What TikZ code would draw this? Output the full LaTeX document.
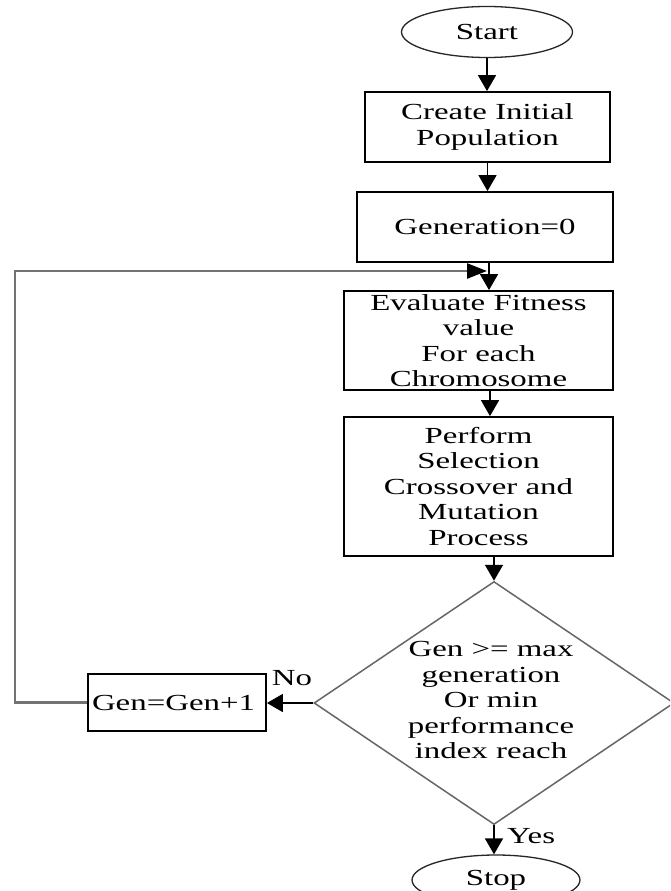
\documentclass[tikz,border=0pt]{standalone}
\usepackage{fontspec}
\setmainfont[FakeStretch=1.43]{Liberation Serif}
\usetikzlibrary{shapes.geometric,arrows.meta}
\begin{document}
\begin{tikzpicture}[x=1pt,y=-1pt,
  every node/.style={font=\fontsize{23}{25.5}\selectfont, inner sep=0pt},
  proc/.style={draw=black, line width=1.8pt, rectangle, align=center},
  term/.style={draw=black!85, line width=1.3pt, ellipse},
  decis/.style={draw=black!60, line width=1.5pt, diamond},
  arr/.style={-{Triangle[width=18pt,length=16pt]}, line width=1.6pt, black},
  loopline/.style={draw=black!55, line width=2.4pt, -{Triangle[width=15pt,length=20pt,color=black]}}
]
\useasboundingbox (0,0) rectangle (670,891);
\clip (0,0) rectangle (670,891);
\fill[white] (0,0) rectangle (670,891);

\node[term, minimum width=171pt, minimum height=51pt] (start) at (487,32) {Start};
\node[proc, minimum width=245pt, minimum height=70pt] (init) at (487.5,127) {Create Initial\\Population};
\node[proc, minimum width=256pt, minimum height=70pt] (gen0) at (485,227) {Generation=0};
\node[proc, minimum width=269pt, minimum height=99pt] (eval) at (478.5,340.5) {Evaluate Fitness\\value\\For each\\Chromosome};
\node[proc, minimum width=269pt, minimum height=139pt] (perf) at (478.5,486.5) {Perform\\Selection\\Crossover and\\Mutation\\Process};
\node[decis, minimum width=360pt, minimum height=243pt] (dec) at (494,703) {};
\node[align=center] (dectext) at (491,700) {Gen >= max\\generation\\Or min\\performance\\index reach};
\node[proc, minimum width=178pt, minimum height=57pt, text width=170pt, align=left, inner xsep=4pt] (inc) at (177,702.5) {Gen=Gen+1};
\node[term, minimum width=168pt, minimum height=50pt] (stop) at (496,880) {Stop};
\node (no) at (292,678) {No};
\node[anchor=west] (yes) at (507,836) {Yes};

\coordinate (g0s) at ([xshift=4pt]gen0.south);
\coordinate (evs) at ([xshift=11.5pt]eval.south);
\coordinate (lc) at (15,703);
\coordinate (lt) at (487,271);

\draw[arr] (start.south) -- (start.south |- init.north);
\draw[arr] (init.south) -- (init.south |- gen0.north);
\draw[arr] (g0s) -- (g0s |- eval.north);
\draw[arr] (evs) -- (evs |- perf.north);
\draw[arr] (perf.south -| dec.north) -- (dec.north);
\draw[arr] (dec.west) -- (dec.west -| inc.east);
\draw[arr] (dec.south) -- (dec.south |- stop.north);
\draw[loopline] (inc.west) -- (inc.west -| lc) |- (lt);
\end{tikzpicture}
\end{document}
